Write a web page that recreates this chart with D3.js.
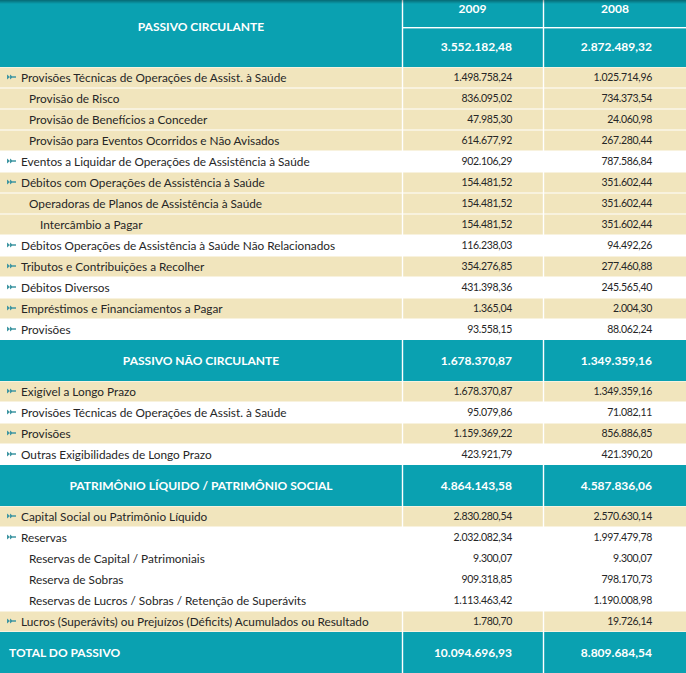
<!DOCTYPE html>
<html>
<head>
<meta charset="utf-8">
<script src="https://cdn.jsdelivr.net/npm/d3@7"></script>
<style>
  body { margin: 0; background: #fff; }
  svg { display: block; }
</style>
</head>
<body>
<svg id="tabela" width="686" height="673"></svg>
<script>
var years = ["2009", "2008"];

var sectionTitles = ["PASSIVO CIRCULANTE", "PASSIVO NÃO CIRCULANTE", "PATRIMÔNIO LÍQUIDO / PATRIMÔNIO SOCIAL", "TOTAL DO PASSIVO"];
var sectionTotal2009 = [3552182.48, 1678370.87, 4864143.58, 10094696.93];
var sectionTotal2008 = [2872489.32, 1349359.16, 4587836.06, 8809684.54];

var rowLabels = [
  "Provisões Técnicas de Operações de Assist. à Saúde",
  "Provisão de Risco",
  "Provisão de Benefícios a Conceder",
  "Provisão para Eventos Ocorridos e Não Avisados",
  "Eventos a Liquidar de Operações de Assistência à Saúde",
  "Débitos com Operações de Assistência à Saúde",
  "Operadoras de Planos de Assistência à Saúde",
  "Intercâmbio a Pagar",
  "Débitos Operações de Assistência à Saúde Não Relacionados",
  "Tributos e Contribuições a Recolher",
  "Débitos Diversos",
  "Empréstimos e Financiamentos a Pagar",
  "Provisões",
  "Exigível a Longo Prazo",
  "Provisões Técnicas de Operações de Assist. à Saúde",
  "Provisões",
  "Outras Exigibilidades de Longo Prazo",
  "Capital Social ou Patrimônio Líquido",
  "Reservas",
  "Reservas de Capital / Patrimoniais",
  "Reserva de Sobras",
  "Reservas de Lucros / Sobras / Retenção de Superávits",
  "Lucros (Superávits) ou Prejuízos (Déficits) Acumulados ou Resultado"
];
var rowLevels = [0, 1, 1, 1, 0, 0, 1, 2, 0, 0, 0, 0, 0, 0, 0, 0, 0, 0, 0, 1, 1, 1, 0];
var rowSection = [0, 0, 0, 0, 0, 0, 0, 0, 0, 0, 0, 0, 0, 1, 1, 1, 1, 2, 2, 2, 2, 2, 2];
var values2009 = [
  1498758.24, 836095.02, 47985.30, 614677.92, 902106.29, 154481.52, 154481.52, 154481.52,
  116238.03, 354276.85, 431398.36, 1365.04, 93558.15,
  1678370.87, 95079.86, 1159369.22, 423921.79,
  2830280.54, 2032082.34, 9300.07, 909318.85, 1113463.42, 1780.70
];
var values2008 = [
  1025714.96, 734373.54, 24060.98, 267280.44, 787586.84, 351602.44, 351602.44, 351602.44,
  94492.26, 277460.88, 245565.40, 2004.30, 88062.24,
  1349359.16, 71082.11, 856886.85, 421390.20,
  2570630.14, 1997479.78, 9300.07, 798170.73, 1190008.98, 19726.14
];

var svg = d3.select("svg#tabela"),
  width = +svg.attr("width"),
  height = +svg.attr("height");

var teal = "#0aa1b1",
  beige = "#f1e5bd",
  ink = "#262626";

var ptBR = d3.formatLocale({decimal: ",", thousands: ".", grouping: [3], currency: ["R$", ""]});
var fmt = ptBR.format(",.2f");

// columns: label | 2009 | 2008
var colX = d3.scaleOrdinal().domain(["label", "2009", "2008"]).range([0, 403, 544]);
var colW = d3.scaleOrdinal().domain(["label", "2009", "2008"]).range([402, 139, 142]);
var valueRight = d3.scaleOrdinal().domain(["2009", "2008"]).range([512, 652]);
var indent = d3.scaleOrdinal().domain([0, 1, 2]).range([21, 29, 40]);

// build the list of table bands
var rowH = 21;
var items = [];
sectionTitles.forEach(function(title, s) {
  items.push({type: s === 0 ? "top" : (s === sectionTitles.length - 1 ? "total" : "section"),
    title: title, v2009: sectionTotal2009[s], v2008: sectionTotal2008[s], h: s === 0 ? 67 : 41});
  var shade = 0;
  rowLabels.forEach(function(label, i) {
    if (rowSection[i] !== s) return;
    if (rowLevels[i] === 0) shade++;
    items.push({type: "row", label: label, level: rowLevels[i], beige: shade % 2 === 1,
      v2009: values2009[i], v2008: values2008[i], h: rowH});
  });
});
var acc = 0;
items.forEach(function(d) { d.y = acc; acc += d.h; });

var y = d3.scaleLinear().domain([0, acc]).range([0, height]);

var band = svg.selectAll(".band")
  .data(items)
  .enter().append("g")
  .attr("class", "band")
  .attr("transform", function(d) { return "translate(0," + y(d.y) + ")"; });

// backgrounds
band.filter(function(d) { return d.type !== "row"; })
  .append("rect")
  .attr("width", width)
  .attr("height", function(d) { return y(d.h) - y(0); })
  .attr("fill", teal);

band.filter(function(d) { return d.type === "row" && d.beige; })
  .append("rect")
  .attr("y", 0.5)
  .attr("width", width)
  .attr("height", rowH - 1)
  .attr("fill", beige);

// vertical separators
band.each(function(d) {
  var g = d3.select(this);
  ["2009", "2008"].forEach(function(k) {
    g.append("rect")
      .attr("x", colX(k) - 1.2)
      .attr("width", 1.4)
      .attr("height", y(d.h) - y(0))
      .attr("fill", "#fff");
  });
});

// top header: year row
var head = band.filter(function(d) { return d.type === "top"; });
head.append("rect")
  .attr("x", colX("2009"))
  .attr("y", 27)
  .attr("width", width - colX("2009"))
  .attr("height", 1.4)
  .attr("fill", "#fff");
head.selectAll(".year")
  .data(years)
  .enter().append("text")
  .attr("class", "year")
  .attr("x", function(k) { return colX(k) + colW(k) / 2; })
  .attr("y", 9)
  .attr("dy", ".35em")
  .style("font", "bold 12px Lato, sans-serif")
  .style("fill", "#fff")
  .style("text-anchor", "middle")
  .text(function(k) { return k; });

var shadow = svg.append("defs").append("linearGradient")
  .attr("id", "shade").attr("x1", 0).attr("x2", 0).attr("y1", 0).attr("y2", 1);
shadow.append("stop").attr("offset", 0).attr("stop-color", "#000").attr("stop-opacity", 0.35);
shadow.append("stop").attr("offset", 1).attr("stop-color", "#000").attr("stop-opacity", 0);
head.append("rect").attr("width", width).attr("height", 4).attr("fill", "url(#shade)");

// header titles
band.filter(function(d) { return d.type !== "row"; })
  .append("text")
  .attr("x", function(d) { return d.type === "total" ? 9 : colW("label") / 2; })
  .attr("y", function(d) { return d.type === "top" ? 27 : (y(d.h) - y(0)) / 2; })
  .attr("dy", ".35em")
  .style("font", "bold 12px Lato, sans-serif")
  .style("fill", "#fff")
  .style("text-anchor", function(d) { return d.type === "total" ? "start" : "middle"; })
  .text(function(d) { return d.title; });

// header values
band.filter(function(d) { return d.type !== "row"; })
  .selectAll(".hval")
  .data(function(d) {
    return [{k: "2009", v: d.v2009, mid: d.type === "top" ? 47 : d.h / 2},
            {k: "2008", v: d.v2008, mid: d.type === "top" ? 47 : d.h / 2}];
  })
  .enter().append("text")
  .attr("class", "hval")
  .attr("x", function(c) { return valueRight(c.k); })
  .attr("y", function(c) { return c.mid; })
  .attr("dy", ".35em")
  .style("font", "bold 12px Lato, sans-serif")
  .style("fill", "#fff")
  .style("text-anchor", "end")
  .text(function(c) { return fmt(c.v); });

// data rows
var rows = band.filter(function(d) { return d.type === "row"; });

rows.filter(function(d) { return d.level === 0; })
  .append("path")
  .attr("transform", "translate(7," + (rowH / 2 - 0.5) + ")")
  .attr("d", "M0,-2.5L3,0L0,2.5ZM3,-2.5L6,0L3,2.5ZM5,-0.8H9V0.8H5Z")
  .attr("fill", "#3f96a2");

rows.append("text")
  .attr("x", function(d) { return indent(d.level); })
  .attr("y", rowH / 2)
  .attr("dy", ".35em")
  .style("font", "11.8px Lato, sans-serif")
  .style("fill", ink)
  .text(function(d) { return d.label; });

rows.selectAll(".val")
  .data(function(d) { return [{k: "2009", v: d.v2009}, {k: "2008", v: d.v2008}]; })
  .enter().append("text")
  .attr("class", "val")
  .attr("x", function(c) { return valueRight(c.k); })
  .attr("y", rowH / 2)
  .attr("dy", ".35em")
  .style("font", "10.5px Lato, sans-serif")
  .style("letter-spacing", "-0.3px")
  .style("fill", ink)
  .style("text-anchor", "end")
  .text(function(c) { return fmt(c.v); });
</script>
</body>
</html>
